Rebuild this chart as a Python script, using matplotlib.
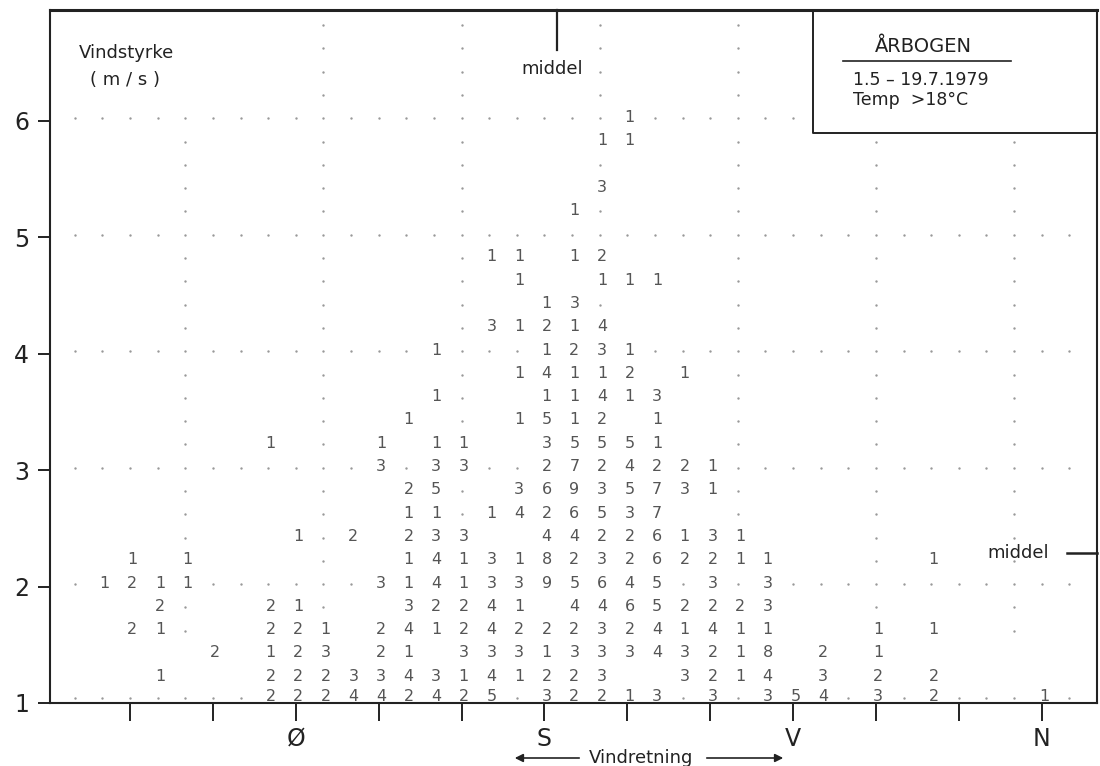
import matplotlib.pyplot as plt

# Antal observationer pr. vindretning (grader) for hver vindstyrke-klasse (m/s)
row_10 = {80: 2, 90: 2, 100: 2, 110: 4, 120: 4, 130: 2, 140: 4, 150: 2, 160: 5, 180: 3,
          190: 2, 200: 2, 210: 1, 220: 3, 240: 3, 260: 3, 270: 5, 280: 4, 300: 3, 320: 2, 360: 1}
row_12 = {40: 1, 80: 2, 90: 2, 100: 2, 110: 3, 120: 3, 130: 4, 140: 3, 150: 1, 160: 4, 170: 1,
          180: 2, 190: 2, 200: 3, 230: 3, 240: 2, 250: 1, 260: 4, 280: 3, 300: 2, 320: 2}
row_14 = {60: 2, 80: 1, 90: 2, 100: 3, 120: 2, 130: 1, 150: 3, 160: 3, 170: 3, 180: 1, 190: 3,
          200: 3, 210: 3, 220: 4, 230: 3, 240: 2, 250: 1, 260: 8, 280: 2, 300: 1}
row_16 = {30: 2, 40: 1, 80: 2, 90: 2, 100: 1, 120: 2, 130: 4, 140: 1, 150: 2, 160: 4, 170: 2,
          180: 2, 190: 2, 200: 3, 210: 2, 220: 4, 230: 1, 240: 4, 250: 1, 260: 1, 300: 1, 320: 1}
row_18 = {40: 2, 80: 2, 90: 1, 130: 3, 140: 2, 150: 2, 160: 4, 170: 1, 190: 4, 200: 4, 210: 6,
          220: 5, 230: 2, 240: 2, 250: 2, 260: 3}
row_20 = {20: 1, 30: 2, 40: 1, 50: 1, 120: 3, 130: 1, 140: 4, 150: 1, 160: 3, 170: 3, 180: 9,
          190: 5, 200: 6, 210: 4, 220: 5, 240: 3, 260: 3}
row_22 = {30: 1, 50: 1, 130: 1, 140: 4, 150: 1, 160: 3, 170: 1, 180: 8, 190: 2, 200: 3, 210: 2,
          220: 6, 230: 2, 240: 2, 250: 1, 260: 1, 320: 1}
row_24 = {90: 1, 110: 2, 130: 2, 140: 3, 150: 3, 180: 4, 190: 4, 200: 2, 210: 2, 220: 6, 230: 1,
          240: 3, 250: 1}
row_26 = {130: 1, 140: 1, 160: 1, 170: 4, 180: 2, 190: 6, 200: 5, 210: 3, 220: 7}
row_28 = {130: 2, 140: 5, 170: 3, 180: 6, 190: 9, 200: 3, 210: 5, 220: 7, 230: 3, 240: 1}
row_30 = {120: 3, 140: 3, 150: 3, 180: 2, 190: 7, 200: 2, 210: 4, 220: 2, 230: 2, 240: 1}
row_32 = {80: 1, 120: 1, 140: 1, 150: 1, 180: 3, 190: 5, 200: 5, 210: 5, 220: 1}
row_34 = {130: 1, 170: 1, 180: 5, 190: 1, 200: 2, 220: 1}
row_36 = {140: 1, 180: 1, 190: 1, 200: 4, 210: 1, 220: 3}
row_38 = {170: 1, 180: 4, 190: 1, 200: 1, 210: 2, 230: 1}
row_40 = {140: 1, 180: 1, 190: 2, 200: 3, 210: 1}
row_42 = {160: 3, 170: 1, 180: 2, 190: 1, 200: 4}
row_44 = {180: 1, 190: 3}
row_46 = {170: 1, 200: 1, 210: 1, 220: 1}
row_48 = {160: 1, 170: 1, 190: 1, 200: 2}
row_52 = {190: 1}
row_54 = {200: 3}
row_58 = {200: 1, 210: 1}
row_60 = {210: 1}

speeds = [1.0, 1.2, 1.4, 1.6, 1.8, 2.0, 2.2, 2.4, 2.6, 2.8, 3.0, 3.2, 3.4, 3.6, 3.8, 4.0,
          4.2, 4.4, 4.6, 4.8, 5.2, 5.4, 5.8, 6.0]
counts = [row_10, row_12, row_14, row_16, row_18, row_20, row_22, row_24, row_26, row_28,
          row_30, row_32, row_34, row_36, row_38, row_40, row_42, row_44, row_46, row_48,
          row_52, row_54, row_58, row_60]

tick_dirs = [30, 60, 90, 120, 150, 180, 210, 240, 270, 300, 330, 360]
tick_names = {90: 'Ø', 180: 'S', 270: 'V', 360: 'N'}
grid_speeds = [1, 2, 3, 4, 5, 6]
grid_dirs = [50, 100, 150, 200, 250, 300, 350]
middel_dir = 184.5
middel_speed = 2.29

ink = '#222222'
digit_col = '#555555'
dot_col = '#999999'

fig = plt.figure(figsize=(11, 7.66), dpi=100)
ax = fig.add_axes([50 / 1100, 63 / 766, 1047 / 1100, 693 / 766])
ax.set_xlim(1, 380)
ax.set_ylim(1, 6.95)

# tal i skemaet
occupied = set()
for v, row in zip(speeds, counts):
    yc = v + 0.03 if v > 1.0 else 1.06
    for d, n in row.items():
        occupied.add((d, round(v, 1)))
        ax.text(d + 0.8, yc, str(n), ha='center', va='center', fontsize=11.5, color=digit_col)

# prikket gitter
dx, dy = [], []
for v in grid_speeds:
    last = 270 if v == 6 else 370
    for d in range(10, last + 1, 10):
        if (d, float(v)) not in occupied:
            dx.append(d)
            dy.append(v + 0.02 if v > 1 else 1.04)
for d in grid_dirs:
    top = 6.0 if d == 50 else (5.8 if d >= 300 else 6.8)
    k = 6
    while 1 + k * 0.1 <= top + 1e-9:
        v = round(1 + k * 0.1, 1)
        if v != int(v) and (d, v) not in occupied:
            dx.append(d)
            dy.append(v + 0.02)
        k += 2
ax.scatter(dx, dy, s=3, color=dot_col, linewidths=0)

# akser
for side in ['left', 'bottom', 'right']:
    ax.spines[side].set_linewidth(1.5)
    ax.spines[side].set_color(ink)
ax.spines['top'].set_linewidth(2.2)
ax.spines['top'].set_color(ink)

ax.set_yticks(grid_speeds)
ax.set_yticklabels([str(v) for v in grid_speeds])
ax.tick_params(axis='y', direction='out', length=9, width=1.4, pad=6, labelsize=17, colors=ink)
ax.set_xticks(tick_dirs)
ax.set_xticklabels([tick_names.get(d, '') for d in tick_dirs])
ax.tick_params(axis='x', direction='out', length=13, width=1.4, pad=4, labelsize=17, colors=ink)

# middel-markeringer
ax.plot([middel_dir, middel_dir], [6.95, 6.61], color=ink, lw=1.6, clip_on=False)
ax.text(middel_dir - 1.8, 6.44, 'middel', ha='center', va='center', fontsize=13, color=ink)
ax.plot([369, 380], [middel_speed, middel_speed], color=ink, lw=1.8, clip_on=False)
ax.text(351.3, middel_speed, 'middel', ha='center', va='center', fontsize=13, color=ink)

# aksetitel
ax.text(11.6, 6.58, 'Vindstyrke', ha='left', va='center', fontsize=13, color=ink)
ax.text(28.2, 6.35, '( m / s )', ha='center', va='center', fontsize=13, color=ink)

# boks med stationsnavn
ax.plot([277.2, 277.2, 380], [6.95, 5.89, 5.89], color=ink, lw=1.4, clip_on=False)
ax.text(317, 6.636, 'ÅRBOGEN', ha='center', va='center', fontsize=14, color=ink)
ax.plot([288, 348.8], [6.515, 6.515], color=ink, lw=1.2)
ax.text(291.6, 6.35, '1.5 – 19.7.1979', ha='left', va='center', fontsize=12.5, color=ink)
ax.text(291.6, 6.18, 'Temp  >18°C', ha='left', va='center', fontsize=12.5, color=ink)

# vindretning med pile
y_arrow = 1 - 758 / 766
fig.text(641 / 1100, y_arrow, 'Vindretning', ha='center', va='center', fontsize=13, color=ink)
ax.annotate('', xy=(512 / 1100, y_arrow), xytext=(582 / 1100, y_arrow), xycoords='figure fraction',
            arrowprops=dict(arrowstyle='-|>', color=ink, lw=1.2, mutation_scale=12))
ax.annotate('', xy=(786 / 1100, y_arrow), xytext=(704 / 1100, y_arrow), xycoords='figure fraction',
            arrowprops=dict(arrowstyle='-|>', color=ink, lw=1.2, mutation_scale=12))

fig.savefig('out.png', dpi=100)
